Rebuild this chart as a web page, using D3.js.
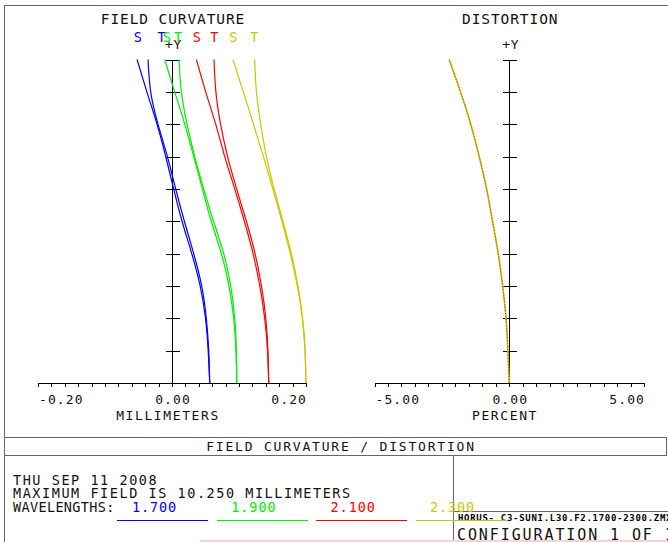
<!DOCTYPE html>
<html>
<head>
<meta charset="utf-8">
<script src="https://cdn.jsdelivr.net/npm/d3@7/dist/d3.min.js"></script>
<style>
  html, body { margin: 0; padding: 0; background: #fff; }
  svg { display: block; }
</style>
</head>
<body>
<script>
// Relative field positions (0 = on axis, 1 = full field of 10.250 mm)
const fieldLevels = [0, 0.1, 0.2, 0.3, 0.4, 0.5, 0.6, 0.7, 0.8, 0.9, 1.0];

// Field curvature in millimeters, sagittal (S) and tangential (T), per wavelength
const blueS   = [0.0563, 0.0540, 0.0500, 0.0420, 0.0295, 0.0150, 0.0025, -0.0094, -0.0224, -0.0375, -0.0522];
const blueT   = [0.0563, 0.0548, 0.0512, 0.0443, 0.0324, 0.0185, 0.0055, -0.0069, -0.0209, -0.0318, -0.0358];
const greenS  = [0.0966, 0.0955, 0.0920, 0.0850, 0.0737, 0.0585, 0.0454, 0.0324, 0.0190, 0.0040, -0.0109];
const greenT  = [0.0966, 0.0960, 0.0936, 0.0876, 0.0772, 0.0620, 0.0473, 0.0339, 0.0224, 0.0140, 0.0104];
const redS    = [0.1443, 0.1426, 0.1383, 0.1310, 0.1210, 0.1080, 0.0936, 0.0787, 0.0652, 0.0503, 0.0364];
const redT    = [0.1443, 0.1432, 0.1400, 0.1335, 0.1240, 0.1110, 0.0965, 0.0830, 0.0725, 0.0655, 0.0627];
const yellowS = [0.1998, 0.1985, 0.1945, 0.1870, 0.1765, 0.1640, 0.1505, 0.1365, 0.1215, 0.1065, 0.0910];
const yellowT = [0.1998, 0.1988, 0.1950, 0.1880, 0.1782, 0.1655, 0.1525, 0.1409, 0.1324, 0.1260, 0.1234];

// Distortion in percent (all wavelengths coincide)
const distortion = [0, -0.05, -0.12, -0.245, -0.41, -0.62, -0.84, -1.115, -1.43, -1.81, -2.23];

// Wavelengths (micrometers) and their plot colours
const wavelengths = ["1.700", "1.900", "2.100", "2.300"];
const waveColors  = ["#0000ff", "#00ee00", "#ff0000", "#c8c800"];

// S / T curve tags above the field curvature plot (in millimeters)
const stTags   = ["S", "T", "S", "T", "S", "T", "S", "T"];
const stTagPos = [-0.0512, -0.0154, -0.0079, 0.009, 0.0369, 0.0631, 0.0915, 0.1228];

// Axis tick labels
const fcTickLabels   = ["-0.20", "0.00", "0.20"];
const distTickLabels = ["-5.00", "0.00", "5.00"];

// Text block
const infoLines = ["THU SEP 11 2008", "MAXIMUM FIELD IS 10.250 MILLIMETERS"];
const fileName = "HORUS- C3-SUNI.L30.F2.1700-2300.ZMX";
const configText = "CONFIGURATION 1 OF 1";

const FONT = "'DejaVu Sans Mono', 'Liberation Mono', monospace";
const INK = "#111";
const FRAME = "#666";

const svg = d3.select("body").append("svg")
  .attr("width", 668).attr("height", 542);

function label(g, x, y, str, opt = {}) {
  return g.append("text")
    .attr("x", x).attr("y", y)
    .attr("font-family", FONT)
    .attr("font-size", opt.size || 13)
    .attr("letter-spacing", opt.ls != null ? opt.ls : 1)
    .attr("text-anchor", opt.anchor || "start")
    .attr("fill", opt.fill || INK)
    .text(str);
}

function hline(x1, x2, y, color) {
  svg.append("line").attr("x1", x1).attr("x2", x2).attr("y1", y).attr("y2", y)
    .attr("stroke", color || FRAME).attr("stroke-width", 1).attr("shape-rendering", "crispEdges");
}
function vline(x, y1, y2, color) {
  svg.append("line").attr("x1", x).attr("x2", x).attr("y1", y1).attr("y2", y2)
    .attr("stroke", color || FRAME).attr("stroke-width", 1).attr("shape-rendering", "crispEdges");
}

// ---------- frame ----------
hline(4, 668, 5.5);
vline(4.5, 5, 542);
hline(4, 667, 437.5);
hline(4, 667, 455.5);
vline(666.5, 437, 456);
vline(453.5, 455, 542);
hline(453, 668, 511.5);

// ---------- scales ----------
const y = d3.scaleLinear().domain([0, 1]).range([383, 59.5]);
const xFC = d3.scaleLinear().domain([-0.2, 0.2]).range([38, 306]);
const xD = d3.scaleLinear().domain([-5, 5]).range([374.5, 644]);

function drawPanel(x, minorStep, tickLabels, unitLabel, title, unitX) {
  const g = svg.append("g");
  const [d0, d1] = x.domain();
  const n = Math.round((d1 - d0) / minorStep);
  const ticks = d3.range(n + 1).map(i => d0 + i * minorStep);

  const ax = g.append("g").attr("transform", `translate(0,${y(0)})`)
    .call(d3.axisBottom(x).tickValues(ticks).tickSize(4).tickSizeOuter(0).tickFormat(""));
  ax.selectAll("path,line").attr("stroke", "#000").attr("shape-rendering", "crispEdges");

  // vertical field axis with centred ticks
  const x0 = Math.round(x(0)) + 0.5;
  g.append("line").attr("x1", x0).attr("x2", x0).attr("y1", y(1)).attr("y2", y(0))
    .attr("stroke", "#000").attr("shape-rendering", "crispEdges");
  g.selectAll(".ytick").data(fieldLevels.slice(1)).join("line")
    .attr("x1", x0 - 7).attr("x2", x0 + 7)
    .attr("y1", d => Math.round(y(d)) + 0.5).attr("y2", d => Math.round(y(d)) + 0.5)
    .attr("stroke", "#000").attr("shape-rendering", "crispEdges");

  // tick labels: first left-aligned, middle centred, last right-aligned
  label(g, x(d0) + 1, 404, tickLabels[0], { size: 13, ls: 1.1, anchor: "start" });
  label(g, x(0) + 1, 404, tickLabels[1], { size: 13, ls: 1.1, anchor: "middle" });
  label(g, x(d1) + 1, 404, tickLabels[2], { size: 13, ls: 1.1, anchor: "end" });
  label(g, unitX, 420, unitLabel, { size: 13, ls: 1.6, anchor: "middle" });

  label(g, x(0) + 1, 24, title, { size: 14.5, ls: 0.9, anchor: "middle" });
  label(g, x(0) + 1.5, 49, "+Y", { size: 13, ls: 0.6, anchor: "middle" });
  return g;
}

const fcPanel = drawPanel(xFC, 0.02, fcTickLabels, "MILLIMETERS", "FIELD CURVATURE", 168);
const dPanel = drawPanel(xD, 0.5, distTickLabels, "PERCENT", "DISTORTION", 505);

// ---------- field curvature curves ----------
const fcLine = d3.line()
  .x(d => xFC(d[1]))
  .y(d => y(d[0]))
  .curve(d3.curveNatural);

const fcSeries = [
  { v: blueS, c: waveColors[0] }, { v: blueT, c: waveColors[0] },
  { v: greenS, c: waveColors[1] }, { v: greenT, c: waveColors[1] },
  { v: redS, c: waveColors[2] }, { v: redT, c: waveColors[2] },
  { v: yellowS, c: waveColors[3] }, { v: yellowT, c: waveColors[3] }
];

fcPanel.selectAll(".fc").data(fcSeries).join("path")
  .attr("fill", "none")
  .attr("stroke", d => d.c)
  .attr("stroke-width", 1.2)
  .attr("d", d => fcLine(d.v.map((val, i) => [fieldLevels[i], val])));

fcPanel.selectAll(".tag").data(stTags).join("text")
  .attr("x", (d, i) => xFC(stTagPos[i]))
  .attr("y", 42)
  .attr("text-anchor", "middle")
  .attr("font-family", FONT)
  .attr("font-size", 13.5)
  .attr("fill", (d, i) => waveColors[Math.floor(i / 2)])
  .text(d => d);

// ---------- distortion curve ----------
const dLine = d3.line()
  .x(d => xD(d[1]))
  .y(d => y(d[0]))
  .curve(d3.curveNatural);
const distPts = distortion.map((v, i) => [fieldLevels[i], v]);
dPanel.append("path").attr("fill", "none").attr("stroke", "#d4b400")
  .attr("stroke-width", 1.6).attr("d", dLine(distPts));
dPanel.append("path").attr("fill", "none").attr("stroke", "#9a6400")
  .attr("stroke-width", 1).attr("stroke-dasharray", "1,2").attr("d", dLine(distPts));

// ---------- text block ----------
label(svg, 341, 450.7, "FIELD CURVATURE / DISTORTION", { size: 13, ls: 1.8, anchor: "middle" });
infoLines.forEach((t, i) => label(svg, 13, 485 + i * 13.3, t, { size: 13.5, ls: 1.55 }));
label(svg, 13, 511.6, "WAVELENGTHS:", { size: 13.5, ls: 0.35 });

label(svg, 458, 520.7, fileName, { size: 9, ls: 0.7, fill: "#000" }).attr("font-weight", "bold");
label(svg, 457, 540, configText, { size: 15, ls: 1.9 });

const legend = svg.append("g");
legend.selectAll("text").data(wavelengths).join("text")
  .attr("x", (d, i) => 132 + i * 99.3)
  .attr("y", 511.6)
  .attr("font-family", FONT)
  .attr("font-size", 13.5)
  .attr("letter-spacing", 0.9)
  .attr("fill", (d, i) => waveColors[i])
  .text(d => d);
legend.selectAll("line").data(wavelengths).join("line")
  .attr("x1", (d, i) => 117 + i * 99.7)
  .attr("x2", (d, i) => 208 + i * 99.7)
  .attr("y1", 520.5).attr("y2", 520.5)
  .attr("stroke", (d, i) => waveColors[i])
  .attr("shape-rendering", "crispEdges");

// faint red band along the bottom edge
svg.append("rect").attr("x", 200).attr("y", 540).attr("width", 468).attr("height", 2)
  .attr("fill", "#fbd2d2");
</script>
</body>
</html>
